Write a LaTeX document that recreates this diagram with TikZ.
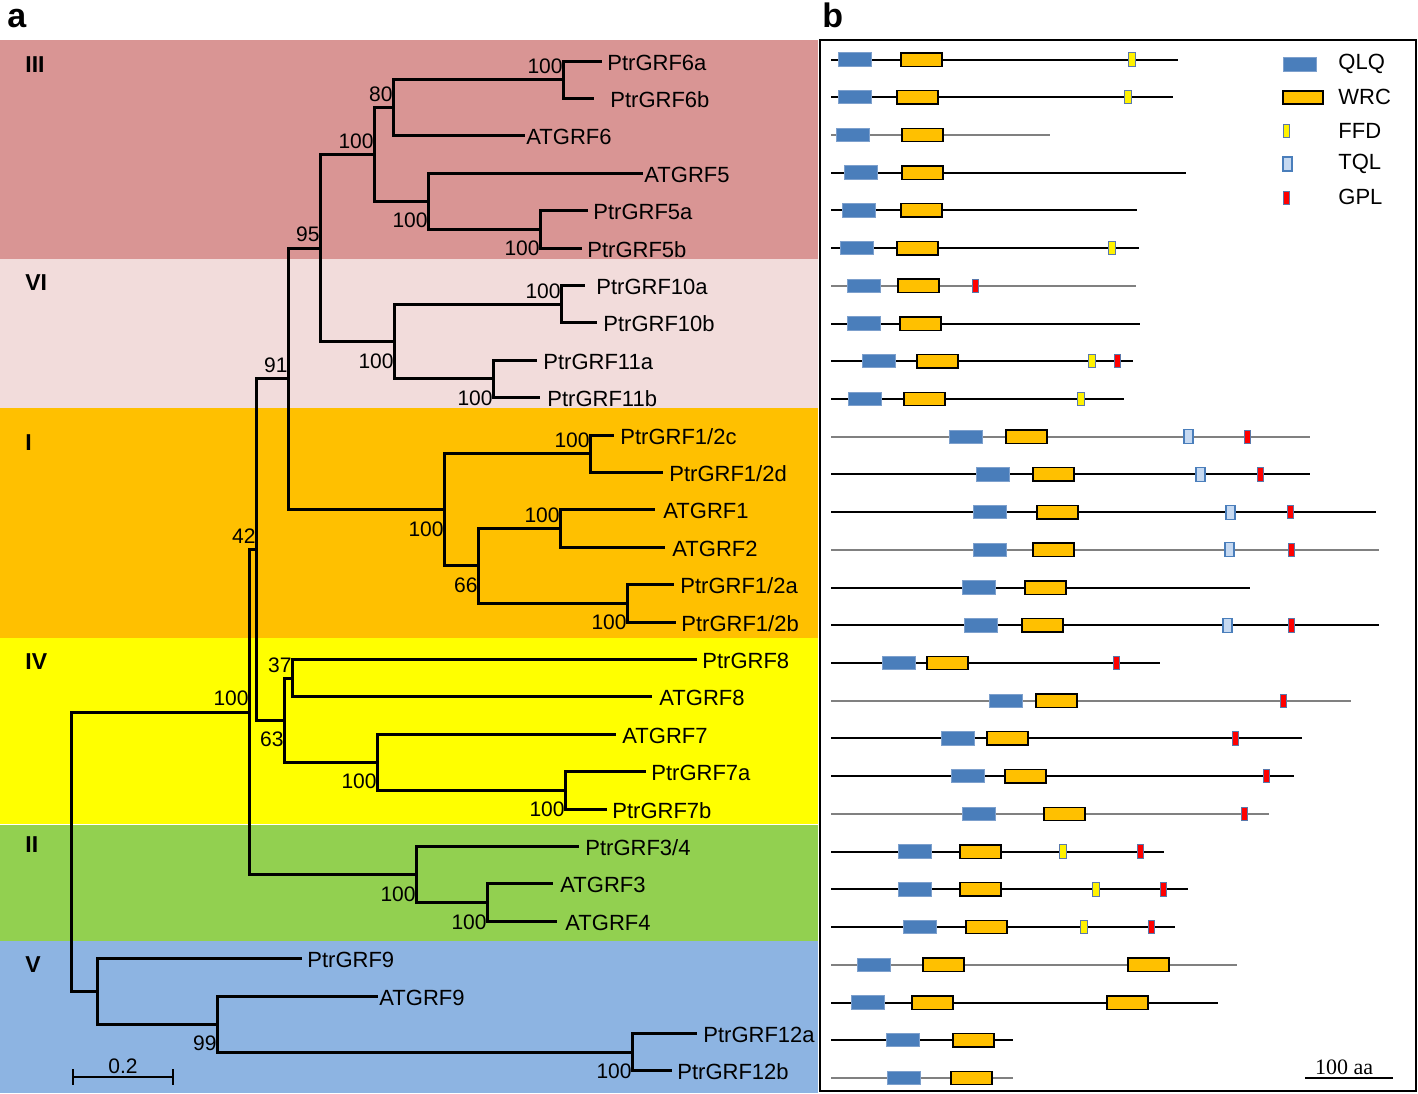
\documentclass[tikz,border=0pt]{standalone}
\usepackage{fontspec}
\setmainfont{Liberation Sans}
\newfontfamily\aafont{Liberation Serif}
\usetikzlibrary{calc}

\definecolor{cladeIII}{RGB}{217,149,148}
\definecolor{cladeVI}{RGB}{242,220,219}
\definecolor{cladeI}{RGB}{255,192,0}
\definecolor{cladeIV}{RGB}{255,255,0}
\definecolor{cladeII}{RGB}{146,208,80}
\definecolor{cladeV}{RGB}{141,180,226}
\definecolor{qlqblue}{RGB}{74,126,187}
\definecolor{qlqedge}{RGB}{125,160,205}
\definecolor{tqlblue}{RGB}{198,217,241}
\definecolor{wrcorange}{RGB}{255,192,0}
\definecolor{motifedge}{RGB}{90,120,170}

\begin{document}
\begin{tikzpicture}[x=0.5pt, y=-0.5pt,
    branch/.style={line width=1.5pt},
    leaf/.style={anchor=base west, inner sep=0pt, yshift=-4.5pt, font=\fontsize{11}{13}\selectfont},
    bsup/.style={anchor=south east, inner sep=0pt, yshift=2.75pt, font=\fontsize{10.5}{12}\selectfont},
    bsdown/.style={anchor=north east, inner sep=0pt, yshift=-5.75pt, font=\fontsize{10.5}{12}\selectfont},
    clade/.style={anchor=base west, inner sep=0pt, font=\fontsize{11.5}{13}\selectfont\bfseries},
    panel/.style={anchor=base west, inner sep=0pt, font=\fontsize{17}{19}\selectfont\bfseries},
    legend/.style={anchor=west, inner sep=0pt, font=\fontsize{11}{13}\selectfont},
    qlq/.style={fill=qlqblue, draw=qlqedge, line width=0.5pt},
    wrc/.style={fill=wrcorange, draw=black, line width=0.7pt},
    ffd/.style={fill=yellow, draw=motifedge, line width=0.5pt},
    tql/.style={fill=tqlblue, draw=qlqblue, line width=0.6pt},
    gpl/.style={fill=red, draw=motifedge, line width=0.5pt},
]
    \useasboundingbox (0,0) rectangle (1418,1093);

    % Clade bands
    \fill[cladeIII] (0,40) rectangle (818,259);
    \fill[cladeVI] (0,259) rectangle (818,408);
    \fill[cladeI] (0,408) rectangle (818,638);
    \fill[cladeIV] (0,638) rectangle (818,823.5);
    \fill[cladeII] (0,824.5) rectangle (818,941);
    \fill[cladeV] (0,941) rectangle (818,1093);

    \node[panel] (pa) at (7,27) {a};
    \node[panel] (pb) at (822,27) {b};

    \node[clade] (cIII) at (25,72) {III};
    \node[clade] (cVI) at (25,290) {VI};
    \node[clade] (cI) at (25,450) {I};
    \node[clade] (cIV) at (25,669) {IV};
    \node[clade] (cII) at (25,852) {II};
    \node[clade] (cV) at (25,972) {V};

    % Leaves: tip of the branch and the name
    \coordinate (t6a) at (602,61);       \node[leaf] (l6a) at (607,61) {PtrGRF6a};
    \coordinate (t6b) at (594,98.4);     \node[leaf] (l6b) at (610,98.4) {PtrGRF6b};
    \coordinate (tat6) at (525,135.8);   \node[leaf] (lat6) at (526,135.8) {ATGRF6};
    \coordinate (tat5) at (643,173.2);   \node[leaf] (lat5) at (644,173.2) {ATGRF5};
    \coordinate (t5a) at (588,210.6);    \node[leaf] (l5a) at (593,210.6) {PtrGRF5a};
    \coordinate (t5b) at (582,248);      \node[leaf] (l5b) at (587,248) {PtrGRF5b};
    \coordinate (t10a) at (585,285.4);   \node[leaf] (l10a) at (596,285.4) {PtrGRF10a};
    \coordinate (t10b) at (597,322.8);   \node[leaf] (l10b) at (603,322.8) {PtrGRF10b};
    \coordinate (t11a) at (537,360.2);   \node[leaf] (l11a) at (543,360.2) {PtrGRF11a};
    \coordinate (t11b) at (540,397.6);   \node[leaf] (l11b) at (547,397.6) {PtrGRF11b};
    \coordinate (t12c) at (614,435);     \node[leaf] (l12c) at (620,435) {PtrGRF1/2c};
    \coordinate (t12d) at (663,472.4);   \node[leaf] (l12d) at (669,472.4) {PtrGRF1/2d};
    \coordinate (tat1) at (655,509.8);   \node[leaf] (lat1) at (663,509.8) {ATGRF1};
    \coordinate (tat2) at (665,547.2);   \node[leaf] (lat2) at (672,547.2) {ATGRF2};
    \coordinate (t12a) at (674,584.6);   \node[leaf] (l12a) at (680,584.6) {PtrGRF1/2a};
    \coordinate (t12b) at (676,622);     \node[leaf] (l12b) at (681,622) {PtrGRF1/2b};
    \coordinate (t8) at (697,659.4);     \node[leaf] (l8) at (702,659.4) {PtrGRF8};
    \coordinate (tat8) at (652,696.8);   \node[leaf] (lat8) at (659,696.8) {ATGRF8};
    \coordinate (tat7) at (616,734.2);   \node[leaf] (lat7) at (622,734.2) {ATGRF7};
    \coordinate (t7a) at (646,771.6);    \node[leaf] (l7a) at (651,771.6) {PtrGRF7a};
    \coordinate (t7b) at (607,809);      \node[leaf] (l7b) at (612,809) {PtrGRF7b};
    \coordinate (t34) at (579,846.4);    \node[leaf] (l34) at (585,846.4) {PtrGRF3/4};
    \coordinate (tat3) at (553,883.8);   \node[leaf] (lat3) at (560,883.8) {ATGRF3};
    \coordinate (tat4) at (557,921.2);   \node[leaf] (lat4) at (565,921.2) {ATGRF4};
    \coordinate (t9) at (302,958.6);     \node[leaf] (l9) at (307,958.6) {PtrGRF9};
    \coordinate (tat9) at (378,996);     \node[leaf] (lat9) at (379,996) {ATGRF9};
    \coordinate (t12xa) at (697,1033.4); \node[leaf] (l12xa) at (703,1033.4) {PtrGRF12a};
    \coordinate (t12xb) at (672,1070.8); \node[leaf] (l12xb) at (677,1070.8) {PtrGRF12b};

    % Inner nodes of the tree
    \coordinate (n6ab) at (563,79.7);
    \coordinate (n6) at (393,107.75);
    \coordinate (n5ab) at (540,229.3);
    \coordinate (n5) at (428,201.25);
    \coordinate (nIII) at (374,154.5);
    \coordinate (n10) at (561,304.1);
    \coordinate (n11) at (493,378.9);
    \coordinate (nVI) at (394,341.5);
    \coordinate (n95) at (320,248);
    \coordinate (n12cd) at (590,453.7);
    \coordinate (nat12) at (560,528.5);
    \coordinate (n12ab) at (627,603.3);
    \coordinate (n66) at (478,565.9);
    \coordinate (nI) at (444,509.8);
    \coordinate (n91) at (288,378.9);
    \coordinate (n37) at (292,678.1);
    \coordinate (n7ab) at (565,790.3);
    \coordinate (n7) at (377,762.25);
    \coordinate (n63) at (284,720.2);
    \coordinate (n42) at (256,549.55);
    \coordinate (nat34) at (487,902.5);
    \coordinate (nII) at (416,874.45);
    \coordinate (n100) at (249,712);
    \coordinate (n12xab) at (632,1052.1);
    \coordinate (n99) at (217,1024.05);
    \coordinate (nV) at (97,991.3);
    \coordinate (root) at (71,851.65);

    \foreach \p/\c in {n6ab/t6a, n6ab/t6b, n6/n6ab, n6/tat6, n5ab/t5a, n5ab/t5b,
        n5/tat5, n5/n5ab, nIII/n6, nIII/n5, n10/t10a, n10/t10b, n11/t11a, n11/t11b,
        nVI/n10, nVI/n11, n95/nIII, n95/nVI, n12cd/t12c, n12cd/t12d, nat12/tat1,
        nat12/tat2, n12ab/t12a, n12ab/t12b, n66/nat12, n66/n12ab, nI/n12cd, nI/n66,
        n91/n95, n91/nI, n37/t8, n37/tat8, n7ab/t7a, n7ab/t7b, n7/tat7, n7/n7ab,
        n63/n37, n63/n7, n42/n91, n42/n63, nat34/tat3, nat34/tat4, nII/t34, nII/nat34,
        n100/n42, n100/nII, n12xab/t12xa, n12xab/t12xb, n99/tat9, n99/n12xab,
        nV/t9, nV/n99, root/n100, root/nV}
        \draw[branch] (\p) |- (\c);

    % Bootstrap values
    \foreach \n/\v/\s in {n6ab/100/bsup, n6/80/bsup, nIII/100/bsup, n5/100/bsdown,
        n5ab/100/bsdown, n95/95/bsup, n10/100/bsup, nVI/100/bsdown, n11/100/bsdown,
        n91/91/bsup, n12cd/100/bsup, nI/100/bsdown, nat12/100/bsup, n66/66/bsdown,
        n12ab/100/bsdown, n42/42/bsup, n37/37/bsup, n100/100/bsup, n63/63/bsdown,
        n7ab/100/bsdown, n7/100/bsdown, nII/100/bsdown, nat34/100/bsdown,
        n99/99/bsdown, n12xab/100/bsdown}
        \node[\s] at (\n) {\v};

    % Scale bar of the tree
    \coordinate (sb1) at (73,1077);
    \coordinate (sb2) at (173,1077);
    \draw[line width=1.3pt] (sb1) -- (sb2);
    \draw[line width=1.3pt] ($(sb1)+(0,-8)$) -- ($(sb1)+(0,8)$);
    \draw[line width=1.3pt] ($(sb2)+(0,-8)$) -- ($(sb2)+(0,8)$);
    \node[anchor=base, inner sep=0pt, font=\fontsize{10.5}{12}\selectfont] (sbl) at ($(sb1)!0.5!(sb2)+(0,-4)$) {0.2};

    % Panel b: domain maps
    \draw[line width=0.8pt] (820,40) rectangle (1416,1091);

    \foreach \i/\len/\lc/\q/\w in {0/1178/black/838/901, 1/1173/black/838/897,
        2/1050/gray/836/902, 3/1186/black/844/902, 4/1137/black/842/901,
        5/1139/black/840/897, 6/1136/gray/847/898, 7/1140/black/847/900,
        8/1133/black/862/917, 9/1124/black/848/904, 10/1310/gray/949/1006,
        11/1310/black/976/1033, 12/1376/black/973/1037, 13/1379/gray/973/1033,
        14/1250/black/962/1025, 15/1379/black/964/1022, 16/1160/black/882/927,
        17/1351/gray/989/1036, 18/1302/black/941/987, 19/1294/black/951/1005,
        20/1269/gray/962/1044, 21/1164/black/898/960, 22/1188/black/898/960,
        23/1175/black/903/966, 24/1237/gray/857/923, 25/1218/black/851/912,
        26/1013/black/886/953, 27/1013/gray/887/951}
    {
        \pgfmathsetmacro{\yy}{59.5+37.72*\i}
        \draw[\lc, line width=1pt] (831,\yy) -- (\len,\yy);
        \path[qlq] (\q,\yy-6.7) rectangle ({\q+33},\yy+6.7);
        \path[wrc] (\w,\yy-6.7) rectangle ({\w+41},\yy+6.7);
    }
    % second WRC of the clade V proteins
    \foreach \i/\x in {24/1128, 25/1107}
    {
        \pgfmathsetmacro{\yy}{59.5+37.72*\i}
        \path[wrc] (\x,\yy-6.7) rectangle ({\x+41},\yy+6.7);
    }
    \foreach \i/\x in {0/1128, 1/1124, 5/1108, 8/1088, 9/1077, 21/1059, 22/1092, 23/1080}
    {
        \pgfmathsetmacro{\yy}{59.5+37.72*\i}
        \path[ffd] (\x,\yy-6.7) rectangle ({\x+7},\yy+6.7);
    }
    \foreach \i/\x in {10/1184, 11/1196, 12/1226, 13/1225, 15/1223}
    {
        \pgfmathsetmacro{\yy}{59.5+37.72*\i}
        \path[tql] (\x,\yy-7) rectangle ({\x+9},\yy+7);
    }
    \foreach \i/\x in {6/972, 8/1114, 10/1244, 11/1257, 12/1287, 13/1288, 15/1288,
        16/1113, 17/1280, 18/1232, 19/1263, 20/1241, 21/1137, 22/1160, 23/1148}
    {
        \pgfmathsetmacro{\yy}{59.5+37.72*\i}
        \path[gpl] (\x,\yy-6.7) rectangle ({\x+6},\yy+6.7);
    }

    % Legend
    \path[qlq] (1283,57) rectangle (1316,71);
    \path[wrc] (1283,91) rectangle (1323,104);
    \path[ffd] (1283,124) rectangle (1289,137);
    \path[tql] (1283,157) rectangle (1292,171);
    \path[gpl] (1283,191) rectangle (1289,204);
    \node[legend] (kQLQ) at (1338,64) {QLQ};
    \node[legend] (kWRC) at (1338,97) {WRC};
    \node[legend] (kFFD) at (1338,131) {FFD};
    \node[legend] (kTQL) at (1338,164) {TQL};
    \node[legend] (kGPL) at (1338,197) {GPL};

    % Scale bar of the maps
    \coordinate (aa1) at (1305,1078);
    \coordinate (aa2) at (1393,1078);
    \draw[line width=0.8pt] (aa1) -- (aa2);
    \node[anchor=base, inner sep=0pt, font=\aafont\fontsize{11}{13}\selectfont] (aal) at (1344,1074) {100 aa};

\end{tikzpicture}
\end{document}
